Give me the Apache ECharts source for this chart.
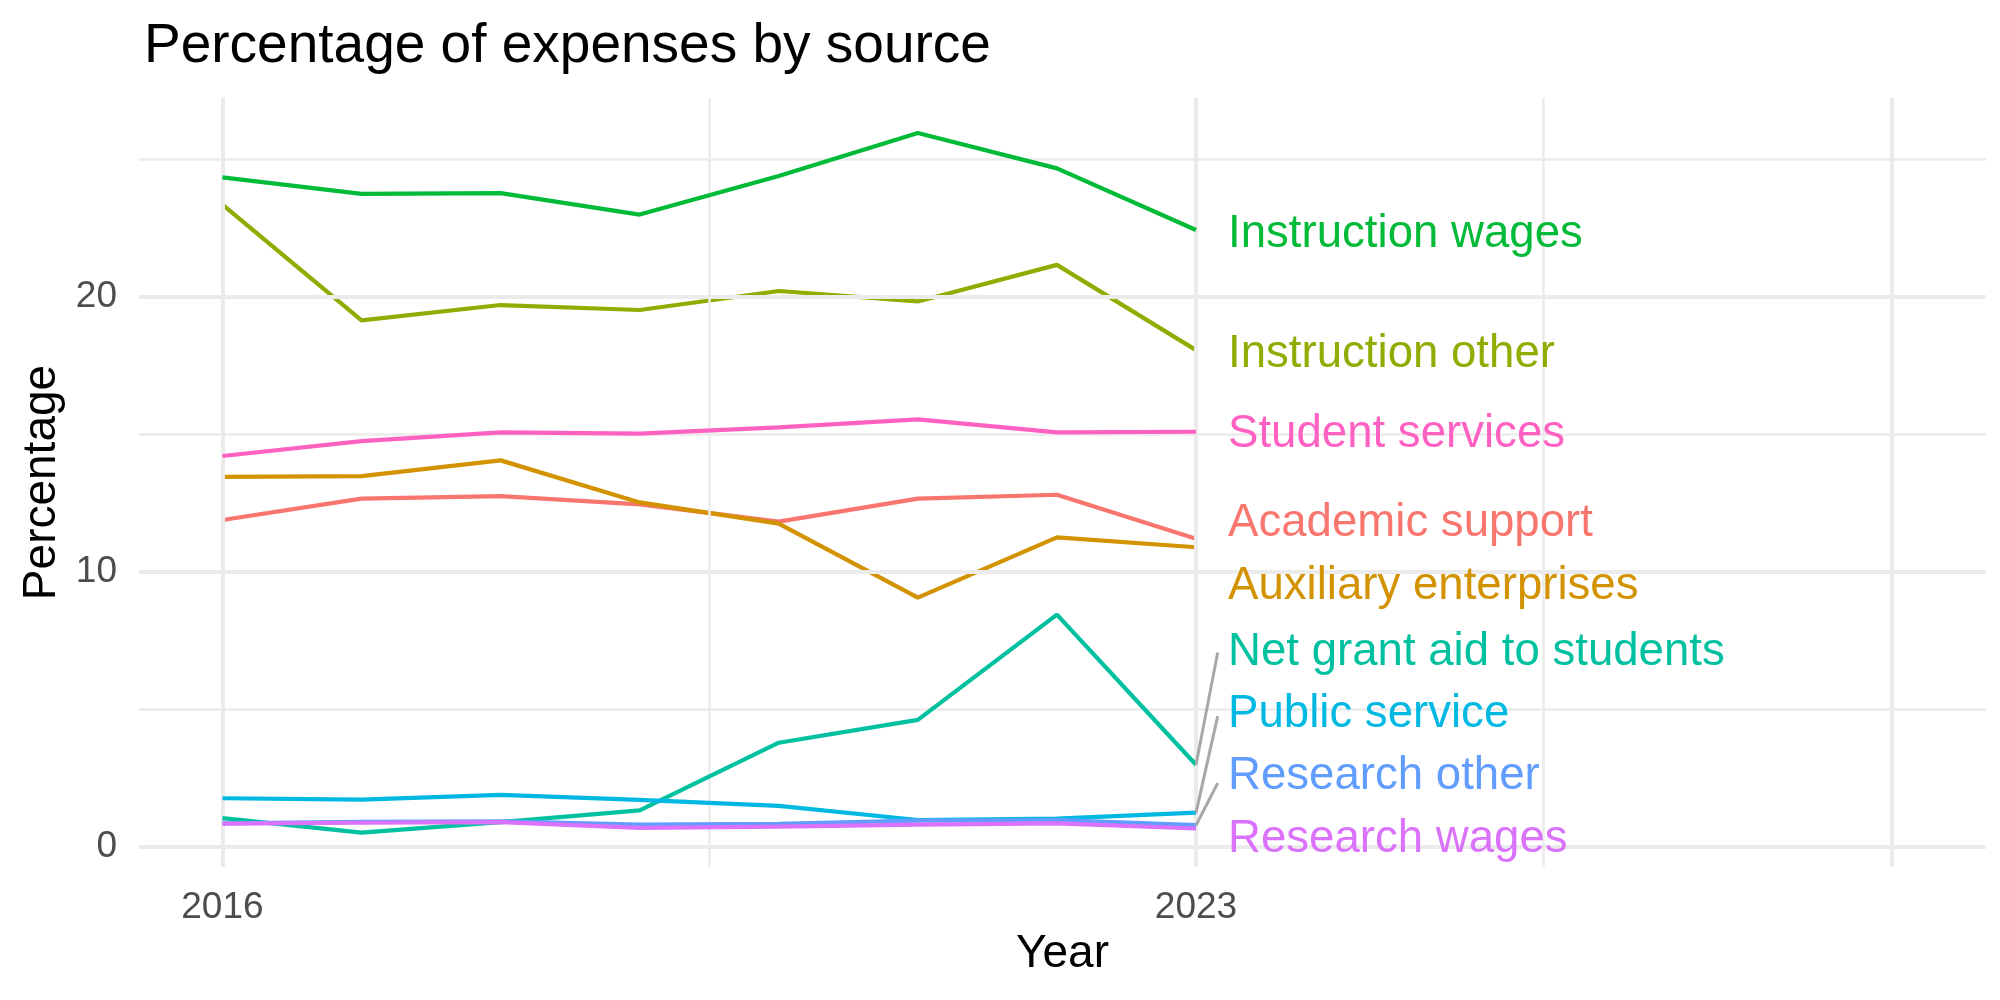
<!DOCTYPE html>
<html>
<head>
<meta charset="utf-8">
<script src="https://cdn.jsdelivr.net/npm/echarts@6/dist/echarts.min.js"></script>
<style>
html,body{margin:0;padding:0;background:#fff;}
#chart{width:2000px;height:1000px;}
</style>
</head>
<body>
<div id="chart"></div>
<script>
// ---- data ----
const years = [2016, 2017, 2018, 2019, 2020, 2021, 2022, 2023];
const seriesNames = ["Academic support", "Auxiliary enterprises", "Instruction other", "Instruction wages",
  "Net grant aid to students", "Public service", "Research other", "Research wages", "Student services"];
const academicSupport   = [11.89, 12.67, 12.76, 12.46, 11.83, 12.67, 12.81, 11.21];
const auxiliaryEnterprises = [13.46, 13.49, 14.06, 12.53, 11.76, 9.07, 11.26, 10.90];
const instructionOther  = [23.36, 19.15, 19.71, 19.53, 20.22, 19.84, 21.17, 18.07];
const instructionWages  = [24.35, 23.75, 23.78, 23.00, 24.40, 25.97, 24.68, 22.44];
const netGrantAid       = [1.05, 0.52, 0.90, 1.33, 3.79, 4.62, 8.45, 2.99];
const publicService     = [1.77, 1.72, 1.89, 1.71, 1.49, 0.98, 1.03, 1.25];
const researchOther     = [0.86, 0.91, 0.93, 0.81, 0.84, 0.96, 0.98, 0.79];
const researchWages     = [0.85, 0.88, 0.90, 0.69, 0.74, 0.81, 0.86, 0.67];
const studentServices   = [14.22, 14.76, 15.08, 15.03, 15.26, 15.55, 15.08, 15.10];
const allValues = [academicSupport, auxiliaryEnterprises, instructionOther, instructionWages,
  netGrantAid, publicService, researchOther, researchWages, studentServices];
const colors = ["#F8766D", "#D39200", "#93AA00", "#00BA38", "#00C19F", "#00B9E3", "#619CFF", "#DB72FB", "#FF61C3"];
// repelled label positions (y values)
const labelY = [11.75, 9.48, 17.91, 22.27, 7.06, 4.82, 2.58, 0.27, 15.00];
const labelX = 2023.23;
// leader segments: series index and segment end y
const segSeries = [4, 5, 6];
const segEndY = [7.07, 4.76, 2.32];
const segEndX = 2023.156;
// axis breaks
const xMajor = [2016, 2023, 2028];
const xMinor = [2019.5, 2025.5];
const xLabels = [2016, 2023];
const yMajor = [0, 10, 20];
const yMinor = [5, 15, 25];

const FONT = "Liberation Sans";
const GRID = "#EBEBEB";

const chart = echarts.init(document.getElementById('chart'), null, {renderer: 'canvas'});

const series = [];
// gridlines
const gridData = [];
xMajor.forEach(v => gridData.push({xAxis: v, lineStyle: {width: 4}}));
xMinor.forEach(v => gridData.push({xAxis: v, lineStyle: {width: 2.5}}));
yMajor.forEach(v => gridData.push({yAxis: v, lineStyle: {width: 4}}));
yMinor.forEach(v => gridData.push({yAxis: v, lineStyle: {width: 2.5}}));
series.push({
  type: 'line', data: [], z: 0, silent: true,
  markLine: {
    silent: true, symbol: ['none', 'none'], animation: false,
    label: {show: false},
    lineStyle: {color: GRID, type: 'solid'},
    data: gridData
  }
});
allValues.forEach((vals, i) => {
  series.push({
    type: 'line', name: seriesNames[i], z: 2 + i,
    data: years.map((y, k) => [y, vals[k]]),
    symbol: 'none', lineStyle: {color: colors[i], width: 4.2}, itemStyle: {color: colors[i]}
  });
});
segSeries.forEach((si, j) => {
  series.push({
    type: 'line', z: 20, symbol: 'none',
    data: [[years[years.length - 1], allValues[si][years.length - 1]], [segEndX, segEndY[j]]],
    lineStyle: {color: '#A8A8A8', width: 3}
  });
});
series.push({
  type: 'scatter', z: 30, symbolSize: 0,
  itemStyle: {opacity: 1},
  data: seriesNames.map((n, i) => ({
    name: n, value: [labelX, labelY[i]],
    itemStyle: {opacity: 1},
    label: {color: colors[i]}
  })),
  label: {
    show: true, position: 'right', distance: 0, formatter: '{b}',
    fontFamily: FONT, fontSize: 45.6
  }
});

chart.setOption({
  animation: false,
  backgroundColor: '#fff',
  title: {
    text: 'Percentage of expenses by source',
    left: 139, top: 14,
    textStyle: {fontFamily: FONT, fontSize: 55, fontWeight: 'normal', color: '#000'}
  },
  grid: {left: 139, right: 14, top: 98, bottom: 133, containLabel: false},
  xAxis: {
    type: 'value', min: 2015.4, max: 2028.68,
    name: 'Year', nameLocation: 'middle', nameGap: 62,
    nameTextStyle: {fontFamily: FONT, fontSize: 46, color: '#000'},
    axisLine: {show: false}, axisTick: {show: false}, splitLine: {show: false},
    axisLabel: {
      customValues: xLabels, margin: 22,
      fontFamily: FONT, fontSize: 37, color: '#4D4D4D',
      formatter: v => String(v)
    }
  },
  yAxis: {
    type: 'value', min: -0.73, max: 27.24,
    name: 'Percentage', nameLocation: 'middle', nameGap: 73, nameRotate: 90,
    nameTextStyle: {fontFamily: FONT, fontSize: 46, color: '#000'},
    axisLine: {show: false}, axisTick: {show: false}, splitLine: {show: false},
    axisLabel: {
      customValues: yMajor, margin: 22,
      fontFamily: FONT, fontSize: 37, color: '#4D4D4D',
      formatter: v => String(v)
    }
  },
  series: series
});
</script>
</body>
</html>
